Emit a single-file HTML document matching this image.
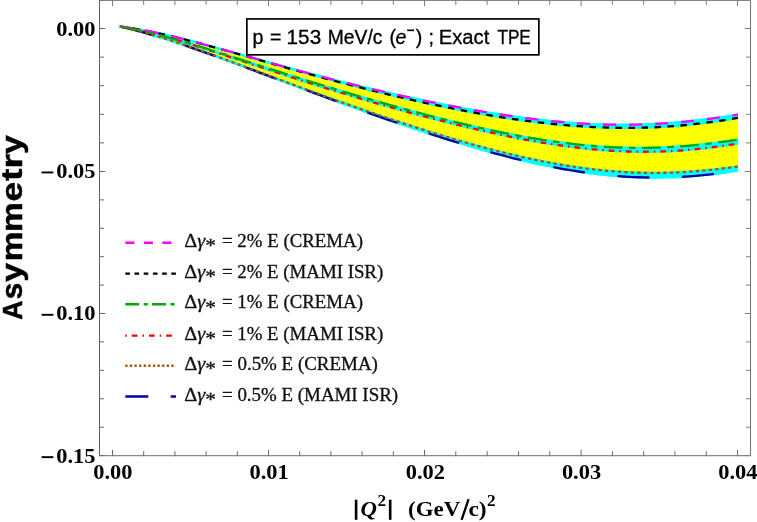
<!DOCTYPE html>
<html><head><meta charset="utf-8"><title>plot</title>
<style>html,body{margin:0;padding:0;background:#fff}svg{display:block;will-change:transform}text{font-family:"Liberation Serif",serif}</style></head><body>
<svg width="757" height="522" viewBox="0 0 757 522">
<rect width="757" height="522" fill="#fff"/>
<defs><clipPath id="cp"><rect x="100" y="0" width="637.9" height="455"/></clipPath></defs>
<g clip-path="url(#cp)">
<polygon points="120.0,26.60 125.0,27.20 130.0,27.88 135.0,28.64 139.9,29.47 144.9,30.37 149.9,31.33 154.9,32.34 159.9,33.41 164.9,34.52 169.8,35.68 174.8,36.87 179.8,38.10 184.8,39.35 189.8,40.63 194.8,41.94 199.7,43.26 204.7,44.60 209.7,45.96 214.7,47.33 219.7,48.70 224.7,50.09 229.6,51.48 234.6,52.87 239.6,54.27 244.6,55.67 249.6,57.07 254.6,58.46 259.5,59.85 264.5,61.24 269.5,62.62 274.5,64.00 279.5,65.37 284.5,66.73 289.5,68.08 294.4,69.43 299.4,70.76 304.4,72.09 309.4,73.40 314.4,74.71 319.4,76.01 324.3,77.29 329.3,78.57 334.3,79.83 339.3,81.08 344.3,82.32 349.3,83.55 354.2,84.77 359.2,85.97 364.2,87.17 369.2,88.35 374.2,89.52 379.2,90.67 384.1,91.82 389.1,92.95 394.1,94.07 399.1,95.18 404.1,96.28 409.1,97.36 414.0,98.43 419.0,99.48 424.0,100.52 429.0,101.55 434.0,102.57 439.0,103.56 444.0,104.55 448.9,105.52 453.9,106.47 458.9,107.40 463.9,108.32 468.9,109.23 473.9,110.11 478.8,110.97 483.8,111.82 488.8,112.65 493.8,113.45 498.8,114.24 503.8,115.00 508.7,115.74 513.7,116.46 518.7,117.16 523.7,117.83 528.7,118.47 533.7,119.09 538.6,119.68 543.6,120.24 548.6,120.77 553.6,121.28 558.6,121.75 563.6,122.19 568.5,122.60 573.5,122.98 578.5,123.32 583.5,123.63 588.5,123.90 593.5,124.14 598.5,124.34 603.4,124.50 608.4,124.63 613.4,124.72 618.4,124.77 623.4,124.77 628.4,124.75 633.3,124.68 638.3,124.57 643.3,124.42 648.3,124.23 653.3,124.00 658.3,123.73 663.2,123.42 668.2,123.07 673.2,122.69 678.2,122.26 683.2,121.80 688.2,121.31 693.1,120.77 698.1,120.21 703.1,119.61 708.1,118.99 713.1,118.33 718.1,117.65 723.0,116.94 728.0,116.22 733.0,115.47 738.0,114.71 738.0,170.60 733.0,171.37 728.0,172.11 723.0,172.81 718.1,173.46 713.1,174.07 708.1,174.64 703.1,175.16 698.1,175.63 693.1,176.05 688.2,176.42 683.2,176.74 678.2,177.01 673.2,177.22 668.2,177.39 663.2,177.50 658.3,177.56 653.3,177.56 648.3,177.51 643.3,177.41 638.3,177.26 633.3,177.05 628.4,176.80 623.4,176.49 618.4,176.13 613.4,175.72 608.4,175.26 603.4,174.75 598.5,174.19 593.5,173.59 588.5,172.94 583.5,172.24 578.5,171.50 573.5,170.71 568.5,169.89 563.6,169.02 558.6,168.11 553.6,167.16 548.6,166.17 543.6,165.14 538.6,164.08 533.7,162.98 528.7,161.85 523.7,160.68 518.7,159.49 513.7,158.26 508.7,157.00 503.8,155.71 498.8,154.39 493.8,153.05 488.8,151.68 483.8,150.28 478.8,148.86 473.9,147.42 468.9,145.95 463.9,144.46 458.9,142.95 453.9,141.42 448.9,139.88 444.0,138.31 439.0,136.72 434.0,135.12 429.0,133.51 424.0,131.87 419.0,130.22 414.0,128.56 409.1,126.89 404.1,125.20 399.1,123.49 394.1,121.78 389.1,120.05 384.1,118.32 379.2,116.57 374.2,114.81 369.2,113.05 364.2,111.27 359.2,109.48 354.2,107.69 349.3,105.89 344.3,104.08 339.3,102.26 334.3,100.44 329.3,98.61 324.3,96.77 319.4,94.93 314.4,93.08 309.4,91.23 304.4,89.37 299.4,87.51 294.4,85.65 289.5,83.78 284.5,81.92 279.5,80.04 274.5,78.17 269.5,76.30 264.5,74.43 259.5,72.56 254.6,70.69 249.6,68.82 244.6,66.96 239.6,65.10 234.6,63.25 229.6,61.41 224.7,59.57 219.7,57.75 214.7,55.93 209.7,54.13 204.7,52.35 199.7,50.58 194.8,48.83 189.8,47.10 184.8,45.39 179.8,43.71 174.8,42.05 169.8,40.43 164.9,38.84 159.9,37.29 154.9,35.77 149.9,34.30 144.9,32.88 139.9,31.51 135.0,30.19 130.0,28.93 125.0,27.73 120.0,26.60" fill="#ffff00" stroke="#ffff00" stroke-width="1"/>
<polygon points="120.0,26.60 125.0,27.20 130.0,27.88 135.0,28.64 139.9,29.47 144.9,30.37 149.9,31.33 154.9,32.34 159.9,33.41 164.9,34.52 169.8,35.68 174.8,36.87 179.8,38.10 184.8,39.35 189.8,40.63 194.8,41.94 199.7,43.26 204.7,44.60 209.7,45.96 214.7,47.33 219.7,48.70 224.7,50.09 229.6,51.48 234.6,52.87 239.6,54.27 244.6,55.67 249.6,57.07 254.6,58.46 259.5,59.85 264.5,61.24 269.5,62.62 274.5,64.00 279.5,65.37 284.5,66.73 289.5,68.08 294.4,69.43 299.4,70.76 304.4,72.09 309.4,73.40 314.4,74.71 319.4,76.01 324.3,77.29 329.3,78.57 334.3,79.83 339.3,81.08 344.3,82.32 349.3,83.55 354.2,84.77 359.2,85.97 364.2,87.17 369.2,88.35 374.2,89.52 379.2,90.67 384.1,91.82 389.1,92.95 394.1,94.07 399.1,95.18 404.1,96.28 409.1,97.36 414.0,98.43 419.0,99.48 424.0,100.52 429.0,101.55 434.0,102.57 439.0,103.56 444.0,104.55 448.9,105.52 453.9,106.47 458.9,107.40 463.9,108.32 468.9,109.23 473.9,110.11 478.8,110.97 483.8,111.82 488.8,112.65 493.8,113.45 498.8,114.24 503.8,115.00 508.7,115.74 513.7,116.46 518.7,117.16 523.7,117.83 528.7,118.47 533.7,119.09 538.6,119.68 543.6,120.24 548.6,120.77 553.6,121.28 558.6,121.75 563.6,122.19 568.5,122.60 573.5,122.98 578.5,123.32 583.5,123.63 588.5,123.90 593.5,124.14 598.5,124.34 603.4,124.50 608.4,124.63 613.4,124.72 618.4,124.77 623.4,124.77 628.4,124.75 633.3,124.68 638.3,124.57 643.3,124.42 648.3,124.23 653.3,124.00 658.3,123.73 663.2,123.42 668.2,123.07 673.2,122.69 678.2,122.26 683.2,121.80 688.2,121.31 693.1,120.77 698.1,120.21 703.1,119.61 708.1,118.99 713.1,118.33 718.1,117.65 723.0,116.94 728.0,116.22 733.0,115.47 738.0,114.71 738.0,117.80 733.0,118.66 728.0,119.48 723.0,120.28 718.1,121.03 713.1,121.75 708.1,122.43 703.1,123.07 698.1,123.68 693.1,124.24 688.2,124.76 683.2,125.25 678.2,125.69 673.2,126.09 668.2,126.45 663.2,126.77 658.3,127.05 653.3,127.29 648.3,127.48 643.3,127.64 638.3,127.75 633.3,127.83 628.4,127.87 623.4,127.86 618.4,127.82 613.4,127.74 608.4,127.62 603.4,127.47 598.5,127.28 593.5,127.05 588.5,126.79 583.5,126.49 578.5,126.16 573.5,125.79 568.5,125.39 563.6,124.96 558.6,124.50 553.6,124.01 548.6,123.49 543.6,122.93 538.6,122.35 533.7,121.75 528.7,121.11 523.7,120.45 518.7,119.76 513.7,119.05 508.7,118.31 503.8,117.54 498.8,116.76 493.8,115.95 488.8,115.12 483.8,114.27 478.8,113.39 473.9,112.50 468.9,111.58 463.9,110.65 458.9,109.70 453.9,108.73 448.9,107.74 444.0,106.73 439.0,105.70 434.0,104.66 429.0,103.60 424.0,102.53 419.0,101.44 414.0,100.33 409.1,99.21 404.1,98.07 399.1,96.92 394.1,95.76 389.1,94.58 384.1,93.38 379.2,92.18 374.2,90.96 369.2,89.73 364.2,88.48 359.2,87.22 354.2,85.95 349.3,84.67 344.3,83.38 339.3,82.08 334.3,80.76 329.3,79.44 324.3,78.10 319.4,76.76 314.4,75.41 309.4,74.04 304.4,72.67 299.4,71.29 294.4,69.91 289.5,68.52 284.5,67.12 279.5,65.71 274.5,64.31 269.5,62.90 264.5,61.48 259.5,60.06 254.6,58.65 249.6,57.23 244.6,55.82 239.6,54.40 234.6,52.99 229.6,51.59 224.7,50.20 219.7,48.81 214.7,47.43 209.7,46.07 204.7,44.72 199.7,43.38 194.8,42.07 189.8,40.77 184.8,39.50 179.8,38.26 174.8,37.05 169.8,35.86 164.9,34.72 159.9,33.61 154.9,32.54 149.9,31.52 144.9,30.55 139.9,29.64 135.0,28.78 130.0,27.98 125.0,27.25 120.0,26.60" fill="#00ffff" stroke="#00ffff" stroke-width="2.4" stroke-linejoin="round"/>
<polygon points="120.0,26.60 125.0,27.44 130.0,28.37 135.0,29.36 139.9,30.42 144.9,31.54 149.9,32.72 154.9,33.95 159.9,35.22 164.9,36.54 169.8,37.90 174.8,39.29 179.8,40.71 184.8,42.16 189.8,43.64 194.8,45.13 199.7,46.65 204.7,48.18 209.7,49.73 214.7,51.29 219.7,52.86 224.7,54.44 229.6,56.02 234.6,57.62 239.6,59.21 244.6,60.81 249.6,62.40 254.6,64.00 259.5,65.60 264.5,67.19 269.5,68.78 274.5,70.37 279.5,71.95 284.5,73.53 289.5,75.10 294.4,76.67 299.4,78.23 304.4,79.78 309.4,81.32 314.4,82.86 319.4,84.39 324.3,85.91 329.3,87.42 334.3,88.93 339.3,90.42 344.3,91.91 349.3,93.38 354.2,94.85 359.2,96.30 364.2,97.75 369.2,99.19 374.2,100.61 379.2,102.03 384.1,103.43 389.1,104.82 394.1,106.20 399.1,107.57 404.1,108.93 409.1,110.28 414.0,111.61 419.0,112.93 424.0,114.24 429.0,115.53 434.0,116.81 439.0,118.07 444.0,119.32 448.9,120.55 453.9,121.77 458.9,122.97 463.9,124.15 468.9,125.31 473.9,126.46 478.8,127.58 483.8,128.69 488.8,129.77 493.8,130.83 498.8,131.87 503.8,132.88 508.7,133.87 513.7,134.83 518.7,135.77 523.7,136.68 528.7,137.56 533.7,138.42 538.6,139.24 543.6,140.03 548.6,140.79 553.6,141.51 558.6,142.20 563.6,142.86 568.5,143.48 573.5,144.07 578.5,144.61 583.5,145.12 588.5,145.59 593.5,146.02 598.5,146.40 603.4,146.75 608.4,147.05 613.4,147.31 618.4,147.52 623.4,147.69 628.4,147.82 633.3,147.90 638.3,147.93 643.3,147.92 648.3,147.87 653.3,147.77 658.3,147.62 663.2,147.42 668.2,147.18 673.2,146.90 678.2,146.57 683.2,146.20 688.2,145.79 693.1,145.33 698.1,144.83 703.1,144.30 708.1,143.72 713.1,143.11 718.1,142.47 723.0,141.79 728.0,141.09 733.0,140.35 738.0,139.60 738.0,143.49 733.0,144.30 728.0,145.08 723.0,145.82 718.1,146.53 713.1,147.19 708.1,147.82 703.1,148.40 698.1,148.94 693.1,149.43 688.2,149.87 683.2,150.27 678.2,150.63 673.2,150.93 668.2,151.19 663.2,151.39 658.3,151.55 653.3,151.66 648.3,151.72 643.3,151.73 638.3,151.70 633.3,151.61 628.4,151.48 623.4,151.30 618.4,151.08 613.4,150.81 608.4,150.50 603.4,150.14 598.5,149.74 593.5,149.30 588.5,148.82 583.5,148.29 578.5,147.73 573.5,147.13 568.5,146.49 563.6,145.82 558.6,145.11 553.6,144.37 548.6,143.59 543.6,142.79 538.6,141.95 533.7,141.08 528.7,140.18 523.7,139.26 518.7,138.31 513.7,137.33 508.7,136.33 503.8,135.31 498.8,134.26 493.8,133.19 488.8,132.10 483.8,130.98 478.8,129.85 473.9,128.70 468.9,127.53 463.9,126.35 458.9,125.14 453.9,123.92 448.9,122.69 444.0,121.44 439.0,120.17 434.0,118.89 429.0,117.60 424.0,116.29 419.0,114.97 414.0,113.63 409.1,112.29 404.1,110.93 399.1,109.56 394.1,108.17 389.1,106.78 384.1,105.37 379.2,103.95 374.2,102.52 369.2,101.08 364.2,99.63 359.2,98.17 354.2,96.69 349.3,95.21 344.3,93.71 339.3,92.20 334.3,90.69 329.3,89.16 324.3,87.62 319.4,86.07 314.4,84.51 309.4,82.94 304.4,81.36 299.4,79.77 294.4,78.17 289.5,76.57 284.5,74.95 279.5,73.33 274.5,71.70 269.5,70.06 264.5,68.42 259.5,66.78 254.6,65.13 249.6,63.47 244.6,61.82 239.6,60.16 234.6,58.51 229.6,56.85 224.7,55.21 219.7,53.56 214.7,51.93 209.7,50.31 204.7,48.70 199.7,47.10 194.8,45.52 189.8,43.97 184.8,42.44 179.8,40.93 174.8,39.46 169.8,38.02 164.9,36.62 159.9,35.26 154.9,33.95 149.9,32.70 144.9,31.50 139.9,30.37 135.0,29.31 130.0,28.32 125.0,27.41 120.0,26.60" fill="#00ffff" stroke="#00ffff" stroke-width="2.4" stroke-linejoin="round"/>
<polygon points="120.0,26.60 125.0,27.67 130.0,28.82 135.0,30.04 139.9,31.33 144.9,32.68 149.9,34.08 154.9,35.53 159.9,37.04 164.9,38.58 169.8,40.16 174.8,41.78 179.8,43.44 184.8,45.12 189.8,46.83 194.8,48.56 199.7,50.31 204.7,52.08 209.7,53.87 214.7,55.67 219.7,57.49 224.7,59.31 229.6,61.14 234.6,62.99 239.6,64.83 244.6,66.68 249.6,68.53 254.6,70.39 259.5,72.25 264.5,74.10 269.5,75.96 274.5,77.81 279.5,79.66 284.5,81.50 289.5,83.35 294.4,85.18 299.4,87.02 304.4,88.84 309.4,90.66 314.4,92.48 319.4,94.28 324.3,96.08 329.3,97.87 334.3,99.66 339.3,101.43 344.3,103.20 349.3,104.95 354.2,106.70 359.2,108.44 364.2,110.16 369.2,111.88 374.2,113.59 379.2,115.28 384.1,116.96 389.1,118.64 394.1,120.30 399.1,121.94 404.1,123.58 409.1,125.20 414.0,126.80 419.0,128.39 424.0,129.97 429.0,131.53 434.0,133.08 439.0,134.60 444.0,136.12 448.9,137.61 453.9,139.08 458.9,140.54 463.9,141.97 468.9,143.39 473.9,144.78 478.8,146.15 483.8,147.50 488.8,148.82 493.8,150.12 498.8,151.39 503.8,152.64 508.7,153.85 513.7,155.04 518.7,156.20 523.7,157.33 528.7,158.43 533.7,159.49 538.6,160.53 543.6,161.52 548.6,162.48 553.6,163.41 558.6,164.30 563.6,165.14 568.5,165.95 573.5,166.72 578.5,167.45 583.5,168.14 588.5,168.78 593.5,169.38 598.5,169.93 603.4,170.44 608.4,170.90 613.4,171.32 618.4,171.69 623.4,172.01 628.4,172.28 633.3,172.50 638.3,172.68 643.3,172.81 648.3,172.88 653.3,172.91 658.3,172.89 663.2,172.82 668.2,172.70 673.2,172.54 678.2,172.32 683.2,172.06 688.2,171.76 693.1,171.41 698.1,171.01 703.1,170.58 708.1,170.10 713.1,169.59 718.1,169.03 723.0,168.45 728.0,167.83 733.0,167.18 738.0,166.50 738.0,170.60 733.0,171.37 728.0,172.11 723.0,172.81 718.1,173.46 713.1,174.07 708.1,174.64 703.1,175.16 698.1,175.63 693.1,176.05 688.2,176.42 683.2,176.74 678.2,177.01 673.2,177.22 668.2,177.39 663.2,177.50 658.3,177.56 653.3,177.56 648.3,177.51 643.3,177.41 638.3,177.26 633.3,177.05 628.4,176.80 623.4,176.49 618.4,176.13 613.4,175.72 608.4,175.26 603.4,174.75 598.5,174.19 593.5,173.59 588.5,172.94 583.5,172.24 578.5,171.50 573.5,170.71 568.5,169.89 563.6,169.02 558.6,168.11 553.6,167.16 548.6,166.17 543.6,165.14 538.6,164.08 533.7,162.98 528.7,161.85 523.7,160.68 518.7,159.49 513.7,158.26 508.7,157.00 503.8,155.71 498.8,154.39 493.8,153.05 488.8,151.68 483.8,150.28 478.8,148.86 473.9,147.42 468.9,145.95 463.9,144.46 458.9,142.95 453.9,141.42 448.9,139.88 444.0,138.31 439.0,136.72 434.0,135.12 429.0,133.51 424.0,131.87 419.0,130.22 414.0,128.56 409.1,126.89 404.1,125.20 399.1,123.49 394.1,121.78 389.1,120.05 384.1,118.32 379.2,116.57 374.2,114.81 369.2,113.05 364.2,111.27 359.2,109.48 354.2,107.69 349.3,105.89 344.3,104.08 339.3,102.26 334.3,100.44 329.3,98.61 324.3,96.77 319.4,94.93 314.4,93.08 309.4,91.23 304.4,89.37 299.4,87.51 294.4,85.65 289.5,83.78 284.5,81.92 279.5,80.04 274.5,78.17 269.5,76.30 264.5,74.43 259.5,72.56 254.6,70.69 249.6,68.82 244.6,66.96 239.6,65.10 234.6,63.25 229.6,61.41 224.7,59.57 219.7,57.75 214.7,55.93 209.7,54.13 204.7,52.35 199.7,50.58 194.8,48.83 189.8,47.10 184.8,45.39 179.8,43.71 174.8,42.05 169.8,40.43 164.9,38.84 159.9,37.29 154.9,35.77 149.9,34.30 144.9,32.88 139.9,31.51 135.0,30.19 130.0,28.93 125.0,27.73 120.0,26.60" fill="#00ffff" stroke="#00ffff" stroke-width="2.4" stroke-linejoin="round"/>
<g fill="none" stroke-width="2.3">
<path d="M120.0,26.60 L125.0,27.25 L130.0,27.98 L135.0,28.78 L139.9,29.64 L144.9,30.55 L149.9,31.52 L154.9,32.54 L159.9,33.61 L164.9,34.72 L169.8,35.86 L174.8,37.05 L179.8,38.26 L184.8,39.50 L189.8,40.77 L194.8,42.07 L199.7,43.38 L204.7,44.72 L209.7,46.07 L214.7,47.43 L219.7,48.81 L224.7,50.20 L229.6,51.59 L234.6,52.99 L239.6,54.40 L244.6,55.82 L249.6,57.23 L254.6,58.65 L259.5,60.06 L264.5,61.48 L269.5,62.90 L274.5,64.31 L279.5,65.71 L284.5,67.12 L289.5,68.52 L294.4,69.91 L299.4,71.29 L304.4,72.67 L309.4,74.04 L314.4,75.41 L319.4,76.76 L324.3,78.10 L329.3,79.44 L334.3,80.76 L339.3,82.08 L344.3,83.38 L349.3,84.67 L354.2,85.95 L359.2,87.22 L364.2,88.48 L369.2,89.73 L374.2,90.96 L379.2,92.18 L384.1,93.38 L389.1,94.58 L394.1,95.76 L399.1,96.92 L404.1,98.07 L409.1,99.21 L414.0,100.33 L419.0,101.44 L424.0,102.53 L429.0,103.60 L434.0,104.66 L439.0,105.70 L444.0,106.73 L448.9,107.74 L453.9,108.73 L458.9,109.70 L463.9,110.65 L468.9,111.58 L473.9,112.50 L478.8,113.39 L483.8,114.27 L488.8,115.12 L493.8,115.95 L498.8,116.76 L503.8,117.54 L508.7,118.31 L513.7,119.05 L518.7,119.76 L523.7,120.45 L528.7,121.11 L533.7,121.75 L538.6,122.35 L543.6,122.93 L548.6,123.49 L553.6,124.01 L558.6,124.50 L563.6,124.96 L568.5,125.39 L573.5,125.79 L578.5,126.16 L583.5,126.49 L588.5,126.79 L593.5,127.05 L598.5,127.28 L603.4,127.47 L608.4,127.62 L613.4,127.74 L618.4,127.82 L623.4,127.86 L628.4,127.87 L633.3,127.83 L638.3,127.75 L643.3,127.64 L648.3,127.48 L653.3,127.29 L658.3,127.05 L663.2,126.77 L668.2,126.45 L673.2,126.09 L678.2,125.69 L683.2,125.25 L688.2,124.76 L693.1,124.24 L698.1,123.68 L703.1,123.07 L708.1,122.43 L713.1,121.75 L718.1,121.03 L723.0,120.28 L728.0,119.48 L733.0,118.66 L738.0,117.80" stroke="#000000" stroke-dasharray="6.5 6.5" stroke-dashoffset="0"/>
<path d="M120.0,26.60 L125.0,27.41 L130.0,28.32 L135.0,29.31 L139.9,30.37 L144.9,31.50 L149.9,32.70 L154.9,33.95 L159.9,35.26 L164.9,36.62 L169.8,38.02 L174.8,39.46 L179.8,40.93 L184.8,42.44 L189.8,43.97 L194.8,45.52 L199.7,47.10 L204.7,48.70 L209.7,50.31 L214.7,51.93 L219.7,53.56 L224.7,55.21 L229.6,56.85 L234.6,58.51 L239.6,60.16 L244.6,61.82 L249.6,63.47 L254.6,65.13 L259.5,66.78 L264.5,68.42 L269.5,70.06 L274.5,71.70 L279.5,73.33 L284.5,74.95 L289.5,76.57 L294.4,78.17 L299.4,79.77 L304.4,81.36 L309.4,82.94 L314.4,84.51 L319.4,86.07 L324.3,87.62 L329.3,89.16 L334.3,90.69 L339.3,92.20 L344.3,93.71 L349.3,95.21 L354.2,96.69 L359.2,98.17 L364.2,99.63 L369.2,101.08 L374.2,102.52 L379.2,103.95 L384.1,105.37 L389.1,106.78 L394.1,108.17 L399.1,109.56 L404.1,110.93 L409.1,112.29 L414.0,113.63 L419.0,114.97 L424.0,116.29 L429.0,117.60 L434.0,118.89 L439.0,120.17 L444.0,121.44 L448.9,122.69 L453.9,123.92 L458.9,125.14 L463.9,126.35 L468.9,127.53 L473.9,128.70 L478.8,129.85 L483.8,130.98 L488.8,132.10 L493.8,133.19 L498.8,134.26 L503.8,135.31 L508.7,136.33 L513.7,137.33 L518.7,138.31 L523.7,139.26 L528.7,140.18 L533.7,141.08 L538.6,141.95 L543.6,142.79 L548.6,143.59 L553.6,144.37 L558.6,145.11 L563.6,145.82 L568.5,146.49 L573.5,147.13 L578.5,147.73 L583.5,148.29 L588.5,148.82 L593.5,149.30 L598.5,149.74 L603.4,150.14 L608.4,150.50 L613.4,150.81 L618.4,151.08 L623.4,151.30 L628.4,151.48 L633.3,151.61 L638.3,151.70 L643.3,151.73 L648.3,151.72 L653.3,151.66 L658.3,151.55 L663.2,151.39 L668.2,151.19 L673.2,150.93 L678.2,150.63 L683.2,150.27 L688.2,149.87 L693.1,149.43 L698.1,148.94 L703.1,148.40 L708.1,147.82 L713.1,147.19 L718.1,146.53 L723.0,145.82 L728.0,145.08 L733.0,144.30 L738.0,143.49" stroke="#ff0000" stroke-dasharray="1.5 5.0 5.7 5.0" stroke-dashoffset="0"/>
<path d="M120.0,26.60 L125.0,27.73 L130.0,28.93 L135.0,30.19 L139.9,31.51 L144.9,32.88 L149.9,34.30 L154.9,35.77 L159.9,37.29 L164.9,38.84 L169.8,40.43 L174.8,42.05 L179.8,43.71 L184.8,45.39 L189.8,47.10 L194.8,48.83 L199.7,50.58 L204.7,52.35 L209.7,54.13 L214.7,55.93 L219.7,57.75 L224.7,59.57 L229.6,61.41 L234.6,63.25 L239.6,65.10 L244.6,66.96 L249.6,68.82 L254.6,70.69 L259.5,72.56 L264.5,74.43 L269.5,76.30 L274.5,78.17 L279.5,80.04 L284.5,81.92 L289.5,83.78 L294.4,85.65 L299.4,87.51 L304.4,89.37 L309.4,91.23 L314.4,93.08 L319.4,94.93 L324.3,96.77 L329.3,98.61 L334.3,100.44 L339.3,102.26 L344.3,104.08 L349.3,105.89 L354.2,107.69 L359.2,109.48 L364.2,111.27 L369.2,113.05 L374.2,114.81 L379.2,116.57 L384.1,118.32 L389.1,120.05 L394.1,121.78 L399.1,123.49 L404.1,125.20 L409.1,126.89 L414.0,128.56 L419.0,130.22 L424.0,131.87 L429.0,133.51 L434.0,135.12 L439.0,136.72 L444.0,138.31 L448.9,139.88 L453.9,141.42 L458.9,142.95 L463.9,144.46 L468.9,145.95 L473.9,147.42 L478.8,148.86 L483.8,150.28 L488.8,151.68 L493.8,153.05 L498.8,154.39 L503.8,155.71 L508.7,157.00 L513.7,158.26 L518.7,159.49 L523.7,160.68 L528.7,161.85 L533.7,162.98 L538.6,164.08 L543.6,165.14 L548.6,166.17 L553.6,167.16 L558.6,168.11 L563.6,169.02 L568.5,169.89 L573.5,170.71 L578.5,171.50 L583.5,172.24 L588.5,172.94 L593.5,173.59 L598.5,174.19 L603.4,174.75 L608.4,175.26 L613.4,175.72 L618.4,176.13 L623.4,176.49 L628.4,176.80 L633.3,177.05 L638.3,177.26 L643.3,177.41 L648.3,177.51 L653.3,177.56 L658.3,177.56 L663.2,177.50 L668.2,177.39 L673.2,177.22 L678.2,177.01 L683.2,176.74 L688.2,176.42 L693.1,176.05 L698.1,175.63 L703.1,175.16 L708.1,174.64 L713.1,174.07 L718.1,173.46 L723.0,172.81 L728.0,172.11 L733.0,171.37 L738.0,170.60" stroke="#0000aa" stroke-dasharray="32 32.7" stroke-dashoffset="61.6"/>
<path d="M120.0,26.60 L125.0,27.20 L130.0,27.88 L135.0,28.64 L139.9,29.47 L144.9,30.37 L149.9,31.33 L154.9,32.34 L159.9,33.41 L164.9,34.52 L169.8,35.68 L174.8,36.87 L179.8,38.10 L184.8,39.35 L189.8,40.63 L194.8,41.94 L199.7,43.26 L204.7,44.60 L209.7,45.96 L214.7,47.33 L219.7,48.70 L224.7,50.09 L229.6,51.48 L234.6,52.87 L239.6,54.27 L244.6,55.67 L249.6,57.07 L254.6,58.46 L259.5,59.85 L264.5,61.24 L269.5,62.62 L274.5,64.00 L279.5,65.37 L284.5,66.73 L289.5,68.08 L294.4,69.43 L299.4,70.76 L304.4,72.09 L309.4,73.40 L314.4,74.71 L319.4,76.01 L324.3,77.29 L329.3,78.57 L334.3,79.83 L339.3,81.08 L344.3,82.32 L349.3,83.55 L354.2,84.77 L359.2,85.97 L364.2,87.17 L369.2,88.35 L374.2,89.52 L379.2,90.67 L384.1,91.82 L389.1,92.95 L394.1,94.07 L399.1,95.18 L404.1,96.28 L409.1,97.36 L414.0,98.43 L419.0,99.48 L424.0,100.52 L429.0,101.55 L434.0,102.57 L439.0,103.56 L444.0,104.55 L448.9,105.52 L453.9,106.47 L458.9,107.40 L463.9,108.32 L468.9,109.23 L473.9,110.11 L478.8,110.97 L483.8,111.82 L488.8,112.65 L493.8,113.45 L498.8,114.24 L503.8,115.00 L508.7,115.74 L513.7,116.46 L518.7,117.16 L523.7,117.83 L528.7,118.47 L533.7,119.09 L538.6,119.68 L543.6,120.24 L548.6,120.77 L553.6,121.28 L558.6,121.75 L563.6,122.19 L568.5,122.60 L573.5,122.98 L578.5,123.32 L583.5,123.63 L588.5,123.90 L593.5,124.14 L598.5,124.34 L603.4,124.50 L608.4,124.63 L613.4,124.72 L618.4,124.77 L623.4,124.77 L628.4,124.75 L633.3,124.68 L638.3,124.57 L643.3,124.42 L648.3,124.23 L653.3,124.00 L658.3,123.73 L663.2,123.42 L668.2,123.07 L673.2,122.69 L678.2,122.26 L683.2,121.80 L688.2,121.31 L693.1,120.77 L698.1,120.21 L703.1,119.61 L708.1,118.99 L713.1,118.33 L718.1,117.65 L723.0,116.94 L728.0,116.22 L733.0,115.47 L738.0,114.71" stroke="#ff00ff" stroke-dasharray="13 13" stroke-dashoffset="0"/>
<path d="M120.0,26.60 L125.0,27.44 L130.0,28.37 L135.0,29.36 L139.9,30.42 L144.9,31.54 L149.9,32.72 L154.9,33.95 L159.9,35.22 L164.9,36.54 L169.8,37.90 L174.8,39.29 L179.8,40.71 L184.8,42.16 L189.8,43.64 L194.8,45.13 L199.7,46.65 L204.7,48.18 L209.7,49.73 L214.7,51.29 L219.7,52.86 L224.7,54.44 L229.6,56.02 L234.6,57.62 L239.6,59.21 L244.6,60.81 L249.6,62.40 L254.6,64.00 L259.5,65.60 L264.5,67.19 L269.5,68.78 L274.5,70.37 L279.5,71.95 L284.5,73.53 L289.5,75.10 L294.4,76.67 L299.4,78.23 L304.4,79.78 L309.4,81.32 L314.4,82.86 L319.4,84.39 L324.3,85.91 L329.3,87.42 L334.3,88.93 L339.3,90.42 L344.3,91.91 L349.3,93.38 L354.2,94.85 L359.2,96.30 L364.2,97.75 L369.2,99.19 L374.2,100.61 L379.2,102.03 L384.1,103.43 L389.1,104.82 L394.1,106.20 L399.1,107.57 L404.1,108.93 L409.1,110.28 L414.0,111.61 L419.0,112.93 L424.0,114.24 L429.0,115.53 L434.0,116.81 L439.0,118.07 L444.0,119.32 L448.9,120.55 L453.9,121.77 L458.9,122.97 L463.9,124.15 L468.9,125.31 L473.9,126.46 L478.8,127.58 L483.8,128.69 L488.8,129.77 L493.8,130.83 L498.8,131.87 L503.8,132.88 L508.7,133.87 L513.7,134.83 L518.7,135.77 L523.7,136.68 L528.7,137.56 L533.7,138.42 L538.6,139.24 L543.6,140.03 L548.6,140.79 L553.6,141.51 L558.6,142.20 L563.6,142.86 L568.5,143.48 L573.5,144.07 L578.5,144.61 L583.5,145.12 L588.5,145.59 L593.5,146.02 L598.5,146.40 L603.4,146.75 L608.4,147.05 L613.4,147.31 L618.4,147.52 L623.4,147.69 L628.4,147.82 L633.3,147.90 L638.3,147.93 L643.3,147.92 L648.3,147.87 L653.3,147.77 L658.3,147.62 L663.2,147.42 L668.2,147.18 L673.2,146.90 L678.2,146.57 L683.2,146.20 L688.2,145.79 L693.1,145.33 L698.1,144.83 L703.1,144.30 L708.1,143.72 L713.1,143.11 L718.1,142.47 L723.0,141.79 L728.0,141.09 L733.0,140.35 L738.0,139.60" stroke="#00aa00" stroke-dasharray="18.7 6.5 6.5 6.5" stroke-dashoffset="35.2"/>
<path d="M120.0,26.60 L125.0,27.67 L130.0,28.82 L135.0,30.04 L139.9,31.33 L144.9,32.68 L149.9,34.08 L154.9,35.53 L159.9,37.04 L164.9,38.58 L169.8,40.16 L174.8,41.78 L179.8,43.44 L184.8,45.12 L189.8,46.83 L194.8,48.56 L199.7,50.31 L204.7,52.08 L209.7,53.87 L214.7,55.67 L219.7,57.49 L224.7,59.31 L229.6,61.14 L234.6,62.99 L239.6,64.83 L244.6,66.68 L249.6,68.53 L254.6,70.39 L259.5,72.25 L264.5,74.10 L269.5,75.96 L274.5,77.81 L279.5,79.66 L284.5,81.50 L289.5,83.35 L294.4,85.18 L299.4,87.02 L304.4,88.84 L309.4,90.66 L314.4,92.48 L319.4,94.28 L324.3,96.08 L329.3,97.87 L334.3,99.66 L339.3,101.43 L344.3,103.20 L349.3,104.95 L354.2,106.70 L359.2,108.44 L364.2,110.16 L369.2,111.88 L374.2,113.59 L379.2,115.28 L384.1,116.96 L389.1,118.64 L394.1,120.30 L399.1,121.94 L404.1,123.58 L409.1,125.20 L414.0,126.80 L419.0,128.39 L424.0,129.97 L429.0,131.53 L434.0,133.08 L439.0,134.60 L444.0,136.12 L448.9,137.61 L453.9,139.08 L458.9,140.54 L463.9,141.97 L468.9,143.39 L473.9,144.78 L478.8,146.15 L483.8,147.50 L488.8,148.82 L493.8,150.12 L498.8,151.39 L503.8,152.64 L508.7,153.85 L513.7,155.04 L518.7,156.20 L523.7,157.33 L528.7,158.43 L533.7,159.49 L538.6,160.53 L543.6,161.52 L548.6,162.48 L553.6,163.41 L558.6,164.30 L563.6,165.14 L568.5,165.95 L573.5,166.72 L578.5,167.45 L583.5,168.14 L588.5,168.78 L593.5,169.38 L598.5,169.93 L603.4,170.44 L608.4,170.90 L613.4,171.32 L618.4,171.69 L623.4,172.01 L628.4,172.28 L633.3,172.50 L638.3,172.68 L643.3,172.81 L648.3,172.88 L653.3,172.91 L658.3,172.89 L663.2,172.82 L668.2,172.70 L673.2,172.54 L678.2,172.32 L683.2,172.06 L688.2,171.76 L693.1,171.41 L698.1,171.01 L703.1,170.58 L708.1,170.10 L713.1,169.59 L718.1,169.03 L723.0,168.45 L728.0,167.83 L733.0,167.18 L738.0,166.50" stroke="#aa5500" stroke-dasharray="3.25 3.25" stroke-dashoffset="0"/>
</g></g>
<g stroke-width="1" fill="none">
<path d="M99.5,0.35H750.55V455.7H99.5" stroke="#707070"/>
<path d="M99.5,0V456.2" stroke="#606060"/>
<path d="M112.50,456.2v-6.3M143.70,456.2v-5.0M174.90,456.2v-5.0M206.10,456.2v-5.0M237.30,456.2v-5.0M268.50,456.2v-6.3M299.70,456.2v-5.0M330.90,456.2v-5.0M362.10,456.2v-5.0M393.30,456.2v-5.0M424.50,456.2v-6.3M455.82,456.2v-5.0M487.14,456.2v-5.0M518.46,456.2v-5.0M549.78,456.2v-5.0M581.10,456.2v-6.3M612.38,456.2v-5.0M643.66,456.2v-5.0M674.94,456.2v-5.0M706.22,456.2v-5.0M737.50,456.2v-6.3M99.0,-0.10h5.0M99.0,28.50h6.3M99.0,57.10h5.0M99.0,85.70h5.0M99.0,114.30h5.0M99.0,142.90h5.0M99.0,171.50h6.3M99.0,199.90h5.0M99.0,228.30h5.0M99.0,256.70h5.0M99.0,285.10h5.0M99.0,313.50h6.3M99.0,341.92h5.0M99.0,370.34h5.0M99.0,398.76h5.0M99.0,427.18h5.0M99.0,455.60h6.3" stroke="#6a6a6a"/>
<path d="M112.50,0v6.1499999999999995M143.70,0v4.85M174.90,0v4.85M206.10,0v4.85M237.30,0v4.85M268.50,0v6.1499999999999995M299.70,0v4.85M330.90,0v4.85M362.10,0v4.85M393.30,0v4.85M424.50,0v6.1499999999999995M455.82,0v4.85M487.14,0v4.85M518.46,0v4.85M549.78,0v4.85M581.10,0v6.1499999999999995M612.38,0v4.85M643.66,0v4.85M674.94,0v4.85M706.22,0v4.85M737.50,0v6.1499999999999995M751.05,-0.10h-5.0M751.05,28.50h-6.3M751.05,57.10h-5.0M751.05,85.70h-5.0M751.05,114.30h-5.0M751.05,142.90h-5.0M751.05,171.50h-6.3M751.05,199.90h-5.0M751.05,228.30h-5.0M751.05,256.70h-5.0M751.05,285.10h-5.0M751.05,313.50h-6.3M751.05,341.92h-5.0M751.05,370.34h-5.0M751.05,398.76h-5.0M751.05,427.18h-5.0M751.05,455.60h-6.3" stroke="#7a7a7a"/>
</g>
<g font-weight="bold" font-size="20.4px" fill="#000">
<text x="56.2" y="35.6" textLength="39.2" lengthAdjust="spacingAndGlyphs">0.00</text>
<text x="56.2" y="177.9" textLength="39.2" lengthAdjust="spacingAndGlyphs">0.05</text>
<rect x="41.6" y="171.50" width="11.8" height="1.9"/>
<text x="56.2" y="320.3" textLength="39.2" lengthAdjust="spacingAndGlyphs">0.10</text>
<rect x="41.6" y="313.85" width="11.8" height="1.9"/>
<text x="56.2" y="462.7" textLength="39.2" lengthAdjust="spacingAndGlyphs">0.15</text>
<rect x="41.6" y="456.20" width="11.8" height="1.9"/>
<text x="93.2" y="478.9" textLength="39.2" lengthAdjust="spacingAndGlyphs">0.00</text>
<text x="249.5" y="478.9" textLength="39.2" lengthAdjust="spacingAndGlyphs">0.01</text>
<text x="405.7" y="478.9" textLength="39.2" lengthAdjust="spacingAndGlyphs">0.02</text>
<text x="561.9" y="478.9" textLength="39.2" lengthAdjust="spacingAndGlyphs">0.03</text>
<text x="718.2" y="478.9" textLength="39.2" lengthAdjust="spacingAndGlyphs">0.04</text>
</g>
<g font-weight="bold" font-size="22px" fill="#000">
<rect x="354.8" y="499.7" width="2.6" height="20.1"/>
<text x="360.6" y="516.4" font-style="italic" textLength="16.4" lengthAdjust="spacingAndGlyphs">Q</text>
<text x="377.4" y="506.0" font-size="16px" textLength="8.6" lengthAdjust="spacingAndGlyphs">2</text>
<rect x="388.9" y="499.7" width="2.6" height="20.1"/>
<text x="408.0" y="516.4" textLength="52.2" lengthAdjust="spacingAndGlyphs">(GeV</text>
<path d="M461.6,519.8L468.6,499.2" stroke="#000" stroke-width="2.3" fill="none"/>
<text x="468.4" y="516.4" textLength="18.2" lengthAdjust="spacingAndGlyphs">c)</text>
<text x="487.0" y="506.0" font-size="16px" textLength="8.6" lengthAdjust="spacingAndGlyphs">2</text>
</g>
<g transform="translate(22.2,0) rotate(-90)" style="font-family:'Liberation Sans',sans-serif" font-weight="bold" fill="#000" stroke="#000" stroke-width="0.5">
<text x="-319.80" y="0" font-size="28px" textLength="19.10" lengthAdjust="spacingAndGlyphs" style="font-family:'Liberation Sans',sans-serif">A</text>
<text x="-299.30" y="0" font-size="30px" textLength="16.56" lengthAdjust="spacingAndGlyphs" style="font-family:'Liberation Sans',sans-serif">s</text>
<text x="-281.69" y="0" font-size="30px" textLength="18.76" lengthAdjust="spacingAndGlyphs" style="font-family:'Liberation Sans',sans-serif">y</text>
<text x="-261.19" y="0" font-size="30px" textLength="29.77" lengthAdjust="spacingAndGlyphs" style="font-family:'Liberation Sans',sans-serif">m</text>
<text x="-231.99" y="0" font-size="30px" textLength="29.77" lengthAdjust="spacingAndGlyphs" style="font-family:'Liberation Sans',sans-serif">m</text>
<text x="-201.49" y="0" font-size="30px" textLength="19.57" lengthAdjust="spacingAndGlyphs" style="font-family:'Liberation Sans',sans-serif">e</text>
<text x="-180.92" y="0" font-size="30px" textLength="12.37" lengthAdjust="spacingAndGlyphs" style="font-family:'Liberation Sans',sans-serif">t</text>
<text x="-168.47" y="0" font-size="30px" textLength="14.44" lengthAdjust="spacingAndGlyphs" style="font-family:'Liberation Sans',sans-serif">r</text>
<text x="-154.09" y="0" font-size="30px" textLength="18.76" lengthAdjust="spacingAndGlyphs" style="font-family:'Liberation Sans',sans-serif">y</text>
</g>
<rect x="246.85" y="18.95" width="292" height="35.9" fill="#fff" stroke="#000" stroke-width="1.7"/>
<g style="font-family:'Liberation Sans',sans-serif" font-size="19.6px" fill="#000" stroke="#000" stroke-width="0.3">
<text x="252.5" y="44" textLength="10.9" lengthAdjust="spacingAndGlyphs" style="font-family:'Liberation Sans',sans-serif">p</text>
<text x="269.9" y="44" textLength="11.45" lengthAdjust="spacingAndGlyphs" style="font-family:'Liberation Sans',sans-serif">=</text>
<text x="286.6" y="44" textLength="34.6" lengthAdjust="spacingAndGlyphs" style="font-family:'Liberation Sans',sans-serif">153</text>
<text x="327.8" y="44" textLength="54.6" lengthAdjust="spacingAndGlyphs" style="font-family:'Liberation Sans',sans-serif">MeV/c</text>
<text x="389.6" y="44" textLength="6.53" lengthAdjust="spacingAndGlyphs" style="font-family:'Liberation Sans',sans-serif">(</text>
<text x="395.6" y="44" font-style="italic" textLength="10.9" lengthAdjust="spacingAndGlyphs" style="font-family:'Liberation Sans',sans-serif">e</text>
<text x="415.7" y="44" textLength="6.53" lengthAdjust="spacingAndGlyphs" style="font-family:'Liberation Sans',sans-serif">)</text>
<text x="428.6" y="44" textLength="5.45" lengthAdjust="spacingAndGlyphs" style="font-family:'Liberation Sans',sans-serif">;</text>
<text x="438.7" y="44" textLength="50.6" lengthAdjust="spacingAndGlyphs" style="font-family:'Liberation Sans',sans-serif">Exact</text>
<text x="497.4" y="44" textLength="33.4" lengthAdjust="spacingAndGlyphs" style="font-family:'Liberation Sans',sans-serif">TPE</text>
<rect x="407.6" y="29.7" width="6.3" height="1.3"/>
</g>
<g stroke-width="2.4" fill="none">
<path d="M125.3,242.7H176" stroke="#ff00ff" stroke-dasharray="9.2 9.3"/>
<path d="M125.3,273.6H176" stroke="#000000" stroke-dasharray="4.6 4.6"/>
<path d="M125.3,304.3H176" stroke="#00aa00" stroke-dasharray="13.8 4.6 4.1 4.3"/>
<path d="M125.3,335.6H176" stroke="#ff0000" stroke-dasharray="1.5 5.0 5.7 5.0"/>
<path d="M125.3,365.8H176" stroke="#aa5500" stroke-dasharray="2.3 2.3"/>
<path d="M125.3,396.5H176" stroke="#0000aa" stroke-dasharray="23 22.4"/>
</g>
<g font-size="18px" fill="#111" stroke="#111" stroke-width="0.3">
<text x="184.3" y="246.8" textLength="31.7" lengthAdjust="spacingAndGlyphs">Δ<tspan font-style="italic">γ</tspan><tspan font-size="19px" dy="5.2">*</tspan></text>
<text x="222" y="246.8" textLength="141.0" lengthAdjust="spacingAndGlyphs" xml:space="preserve">= 2% E (CREMA)</text>
<text x="184.3" y="277.7" textLength="31.7" lengthAdjust="spacingAndGlyphs">Δ<tspan font-style="italic">γ</tspan><tspan font-size="19px" dy="5.2">*</tspan></text>
<text x="222" y="277.7" textLength="161.2" lengthAdjust="spacingAndGlyphs" xml:space="preserve">= 2% E (MAMI ISR)</text>
<text x="184.3" y="308.4" textLength="31.7" lengthAdjust="spacingAndGlyphs">Δ<tspan font-style="italic">γ</tspan><tspan font-size="19px" dy="5.2">*</tspan></text>
<text x="222" y="308.4" textLength="141.0" lengthAdjust="spacingAndGlyphs" xml:space="preserve">= 1% E (CREMA)</text>
<text x="184.3" y="339.7" textLength="31.7" lengthAdjust="spacingAndGlyphs">Δ<tspan font-style="italic">γ</tspan><tspan font-size="19px" dy="5.2">*</tspan></text>
<text x="222" y="339.7" textLength="161.2" lengthAdjust="spacingAndGlyphs" xml:space="preserve">= 1% E (MAMI ISR)</text>
<text x="184.3" y="369.9" textLength="31.7" lengthAdjust="spacingAndGlyphs">Δ<tspan font-style="italic">γ</tspan><tspan font-size="19px" dy="5.2">*</tspan></text>
<text x="222" y="369.9" textLength="155.9" lengthAdjust="spacingAndGlyphs" xml:space="preserve">= 0.5% E (CREMA)</text>
<text x="184.3" y="400.6" textLength="31.7" lengthAdjust="spacingAndGlyphs">Δ<tspan font-style="italic">γ</tspan><tspan font-size="19px" dy="5.2">*</tspan></text>
<text x="222" y="400.6" textLength="176.1" lengthAdjust="spacingAndGlyphs" xml:space="preserve">= 0.5% E (MAMI ISR)</text>
</g>
</svg></body></html>
